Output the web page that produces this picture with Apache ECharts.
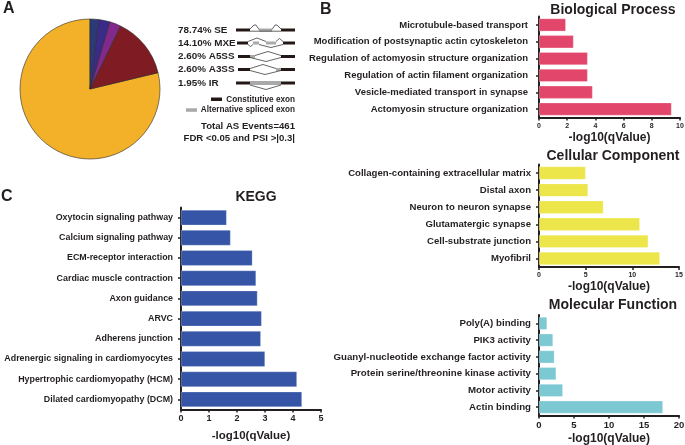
<!DOCTYPE html>
<html>
<head>
<meta charset="utf-8">
<script src="https://cdn.jsdelivr.net/npm/echarts@6/dist/echarts.min.js"></script>
<style>
html,body{margin:0;padding:0;background:#fff;}
#c{width:685px;height:445px;}
</style>
</head>
<body>
<div id="c"></div>
<script>
// ---------- Data ----------
const asTypes = ['SE', 'MXE', 'A5SS', 'A3SS', 'IR'];
const asPercents = [78.74, 14.10, 2.60, 2.60, 1.95];
const asColors = ['#f3b12a', '#7f1b22', '#83298c', '#3b2b88', '#2b3a78'];
const totalEvents = 461;

const bpCats = ['Microtubule-based transport', 'Modification of postsynaptic actin cytoskeleton',
  'Regulation of actomyosin structure organization', 'Regulation of actin filament organization',
  'Vesicle-mediated transport in synapse', 'Actomyosin structure organization'];
const bpVals = [1.9, 2.45, 3.45, 3.45, 3.8, 9.4];
const bpTicks = [0, 10, 2];

const ccCats = ['Collagen-containing extracellular matrix', 'Distal axon', 'Neuron to neuron synapse',
  'Glutamatergic synapse', 'Cell-substrate junction', 'Myofibril'];
const ccVals = [5.0, 5.25, 6.9, 10.8, 11.7, 12.95];
const ccTicks = [0, 15, 5];

const mfCats = ['Poly(A) binding', 'PIK3 activity', 'Guanyl-nucleotide exchange factor activity',
  'Protein serine/threonine kinase activity', 'Motor activity', 'Actin binding'];
const mfVals = [1.15, 2.0, 2.2, 2.45, 3.4, 17.7];
const mfTicks = [0, 20, 5];

const keggCats = ['Oxytocin signaling pathway', 'Calcium signaling pathway', 'ECM-receptor interaction',
  'Cardiac muscle contraction', 'Axon guidance', 'ARVC', 'Adherens junction',
  'Adrenergic signaling in cardiomyocytes', 'Hypertrophic cardiomyopathy (HCM)', 'Dilated cardiomyopathy (DCM)'];
const keggVals = [1.63, 1.77, 2.55, 2.68, 2.73, 2.88, 2.85, 3.0, 4.14, 4.32];
const keggTicks = [0, 5, 1];

// ---------- Layout / styles ----------
const FONT = "'Liberation Sans', Arial, sans-serif";
const INK = '#231f20';

const panels = [
  {cats: bpCats, vals: bpVals, ticks: bpTicks, color: '#e2476b', grid: {left: 539, top: 16.5, width: 141, height: 101}, labMargin: 11, labFont: 9.5, tickFont: 7, nameFont: 12, nameGap: 14},
  {cats: ccCats, vals: ccVals, ticks: ccTicks, color: '#ece64b', grid: {left: 539, top: 164.5, width: 140, height: 102.5}, labMargin: 8, labFont: 9.6, tickFont: 7, nameFont: 12, nameGap: 14},
  {cats: mfCats, vals: mfVals, ticks: mfTicks, color: '#7dc9d3', grid: {left: 539, top: 315, width: 140, height: 100.5}, labMargin: 8, labFont: 9.7, tickFont: 9.5, nameFont: 12, nameGap: 17},
  {cats: keggCats, vals: keggVals, ticks: keggTicks, color: '#3655a6', grid: {left: 181, top: 207.5, width: 140, height: 202}, labMargin: 8, labFont: 8.9, tickFont: 9, nameFont: 11.5, nameGap: 20}
];

const grids = [], xAxes = [], yAxes = [], series = [];
panels.forEach((p, i) => {
  grids.push(Object.assign({containLabel: false, outerBoundsMode: 'none'}, p.grid));
  xAxes.push({
    type: 'value', gridIndex: i, min: p.ticks[0], max: p.ticks[1], interval: p.ticks[2],
    axisLine: {show: true, lineStyle: {color: INK, width: 2}},
    axisTick: {show: true, length: 3, lineStyle: {color: INK, width: 1.5}},
    splitLine: {show: false},
    axisLabel: {color: INK, fontSize: p.tickFont, fontWeight: 'bold', fontFamily: FONT, margin: 5},
    name: '-log10(qValue)', nameLocation: 'middle', nameGap: p.nameGap,
    nameTextStyle: {color: INK, fontSize: p.nameFont, fontWeight: 'bold', fontFamily: FONT}
  });
  yAxes.push({
    type: 'category', gridIndex: i, data: p.cats, inverse: true,
    axisLine: {show: true, lineStyle: {color: INK, width: 2}},
    axisTick: {show: true, alignWithLabel: true, length: 3, lineStyle: {color: INK, width: 1.5}},
    axisLabel: {color: INK, fontSize: p.labFont, fontWeight: 'bold', fontFamily: FONT, margin: p.labMargin},
    splitLine: {show: false}
  });
  series.push({
    type: 'bar', xAxisIndex: i, yAxisIndex: i, data: p.vals, barWidth: '76%',
    itemStyle: {color: p.color, borderColor: 'rgba(255,255,255,0.5)', borderWidth: 0.5},
    silent: true
  });
});

series.push({
  type: 'pie', center: [90, 89], radius: 70, startAngle: 90, clockwise: false,
  data: asTypes.map((t, i) => ({name: t, value: asPercents[i], itemStyle: {color: asColors[i]}})),
  label: {show: false}, labelLine: {show: false}, silent: true,
  itemStyle: {borderColor: '#2a2a2a', borderWidth: 0.6}
});

// ---------- Graphic decorations ----------
function txt(text, x, y, size, align, vAlign) {
  return {type: 'text', silent: true, style: {text: text, x: x, y: y, fill: INK,
    font: 'bold ' + size + 'px ' + FONT, align: align || 'left', verticalAlign: vAlign || 'middle'}};
}
function rect(x, y, w, h, c) {
  return {type: 'rect', silent: true, shape: {x: x, y: y, width: w, height: h}, style: {fill: c}};
}
function pl(pts) {
  return {type: 'polyline', silent: true, shape: {points: pts}, style: {stroke: '#222', lineWidth: 0.7, fill: null}};
}
const BLK = '#231815', GRY = '#a9a9a9';
const g = [];
// panel letters
g.push(txt('A', 3, 9, 16, 'left'));
g.push(txt('B', 320, 10, 16, 'left'));
g.push(txt('C', 1, 197, 16, 'left'));
// titles
g.push(txt('Biological Process', 613, 10, 14, 'center'));
g.push(txt('Cellular Component', 613, 156, 14, 'center'));
g.push(txt('Molecular Function', 613, 305, 14, 'center'));
g.push(txt('KEGG', 256, 197, 14, 'center'));
// pie legend labels
const labYs = [30, 43, 56.5, 69.5, 83];
asTypes.forEach((t, i) => g.push(txt(asPercents[i].toFixed(2) + '% ' + t, 178, labYs[i], 9.9, 'left')));
// SE
g.push(rect(236, 28.5, 14, 3, BLK), rect(281, 28.5, 14, 3, BLK), rect(259, 28.5, 13, 3, GRY));
g.push(pl([[250, 29], [254, 25], [256, 25], [259, 29.5]]), pl([[272, 29.5], [275, 25], [277, 25], [281, 29]]),
  pl([[250, 31.2], [281, 31.2]]));
// MXE
g.push(rect(237, 41.5, 11, 3, BLK), rect(283, 41.5, 12, 3, BLK), rect(253, 41.5, 6, 3, GRY), rect(266, 41.5, 10, 3, GRY));
g.push(pl([[248, 41.5], [257, 38], [266, 41.5]]), pl([[276, 41.5], [279.5, 38.5], [283, 41.5]]),
  pl([[248, 44.5], [250.5, 46.5], [253, 44.5]]), pl([[259, 44.5], [271, 47.5], [283, 44.5]]));
// A5SS
g.push(rect(238, 55, 12, 3, BLK), rect(250, 55, 5, 3, GRY), rect(281, 55, 14, 3, BLK));
g.push(pl([[255, 55.5], [268, 51.5], [281, 55.5]]), pl([[250, 57.5], [266, 61.5], [281, 57.5]]));
// A3SS
g.push(rect(238, 68, 12, 3, BLK), rect(276, 68, 5, 3, GRY), rect(281, 68, 14, 3, BLK));
g.push(pl([[250, 68.5], [263, 64.5], [276, 68.5]]), pl([[250, 70.5], [265, 74.5], [281, 70.5]]));
// IR
g.push(rect(236, 81.5, 14, 3, BLK), rect(250, 81, 31, 4, GRY), rect(281, 81.5, 14, 3, BLK));
g.push(pl([[250, 85], [266, 89.5], [281, 85]]));
// exon legend
g.push(rect(211, 97.5, 11, 3.5, BLK), txt('Constitutive exon', 295, 99.5, 8.2, 'right'));
g.push(rect(186, 108.3, 11, 3.5, GRY), txt('Alternative spliced exon', 295, 110, 8.2, 'right'));
g.push(txt('Total AS Events=' + totalEvents, 295, 126.5, 9.6, 'right'));
g.push(txt('FDR <0.05 and PSI >|0.3|', 295, 138, 9.6, 'right'));

const chart = echarts.init(document.getElementById('c'), null, {renderer: 'canvas'});
chart.setOption({
  animation: false,
  backgroundColor: '#fff',
  grid: grids, xAxis: xAxes, yAxis: yAxes, series: series,
  graphic: g
});
</script>
</body>
</html>
